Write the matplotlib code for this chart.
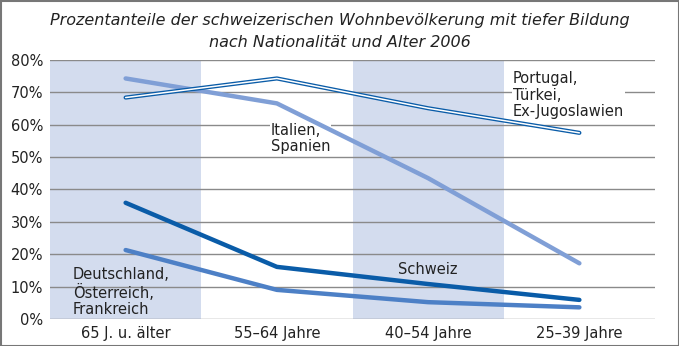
import matplotlib
matplotlib.use("Agg")
import matplotlib.pyplot as plt

categories = ["65 J. u. älter", "55–64 Jahre", "40–54 Jahre", "25–39 Jahre"]
portugal = [68.4, 74.3, 65.1, 57.5]
italien = [74.3, 66.6, 43.5, 17.2]
schweiz = [35.9, 16.1, 10.8, 5.9]
deutschland = [21.3, 9.0, 5.2, 3.6]
yticks = [0, 10, 20, 30, 40, 50, 60, 70, 80]

plt.rcParams['font.family'] = ['DejaVu Sans']

fig = plt.figure(figsize=(6.79, 3.46), dpi=100)
ax = fig.add_axes([50/679, 27/346, 605/679, 259/346])

x = list(range(len(categories)))
ax.set_xlim(-0.5, 3.5)
ax.set_ylim(0, 80)

for i in (0, 2):
    ax.axvspan(i - 0.5, i + 0.5, color="#d3dcee", zorder=0, lw=0)

for t in yticks:
    ax.axhline(t, color="#8a8a8a", lw=1.0, zorder=1)

ax.plot(x, deutschland, color="#4d80c6", lw=3.2, solid_capstyle="round", zorder=3)
ax.plot(x, schweiz, color="#0a5ca8", lw=3.2, solid_capstyle="round", zorder=4)
ax.plot(x, italien, color="#809fd6", lw=3.2, solid_capstyle="round", zorder=3)
ax.plot(x, portugal, color="#0a5ca8", lw=3.0, solid_capstyle="round", zorder=5)
ax.plot(x, portugal, color="white", lw=1.1, solid_capstyle="round", zorder=6)

fs = 10.5
ax.text(2.56, 76.5, "Portugal,\nTürkei,\nEx-Jugoslawien", fontsize=fs, va="top",
        ha="left", color="#222222", linespacing=1.1, zorder=2,
        bbox=dict(facecolor="white", edgecolor="none", pad=0.3))
ax.text(0.96, 60.5, "Italien,\nSpanien", fontsize=fs, va="top", ha="left",
        color="#222222", linespacing=1.1, zorder=2,
        bbox=dict(facecolor="white", edgecolor="none", pad=0.3))
ax.text(1.8, 17.5, "Schweiz", fontsize=fs, va="top", ha="left", color="#222222", zorder=7)
ax.text(-0.35, 16.0, "Deutschland,\nÖsterreich,\nFrankreich", fontsize=fs, va="top",
        ha="left", color="#222222", linespacing=1.1, zorder=7)

ax.set_xticks(x)
ax.set_xticklabels(categories, fontsize=fs, color="#222222")
ax.set_yticks(yticks)
ax.set_yticklabels([f"{t}%" for t in yticks], fontsize=fs, color="#222222")
ax.tick_params(length=0, pad=5)
for s in ax.spines.values():
    s.set_visible(False)

fig.text(0.5, 0.962, "Prozentanteile der schweizerischen Wohnbevölkerung mit tiefer Bildung\nnach Nationalität und Alter 2006",
         ha="center", va="top", fontsize=11.5, style="italic", color="#222222", linespacing=1.6)

border = plt.Rectangle((0.5/679, 0.5/346), 1 - 1/679, 1 - 1/346, transform=fig.transFigure,
                       fill=False, edgecolor="#777777", lw=1.5)
fig.patches.append(border)

fig.savefig("out.png", dpi=100)
